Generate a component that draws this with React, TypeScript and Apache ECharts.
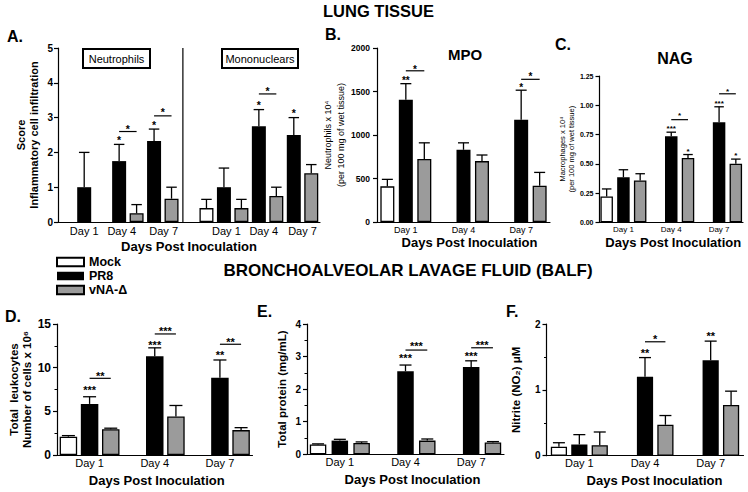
import React, { useEffect, useRef } from 'react';
import * as echarts from 'echarts';

const FONT = '"Liberation Sans", Arial, Helvetica, sans-serif';
const NARROW = '"Liberation Sans Narrow", "Arial Narrow", "Liberation Sans", Arial, sans-serif';
const GRAY = '#9b9b9b';

const legendNames = ['Mock', 'PR8', 'vNA-Δ'];
const dayLabels = ['Day 1', 'Day 4', 'Day 7'];

// ---------- A. Lung histopathology score ----------
const scoreTicks = [0, 1, 2, 3, 4, 5];
const neutPR8 = [1.0, 1.75, 2.33];
const neutPR8Err = [1.0, 0.48, 0.34];
const neutVNA = [0, 0.25, 0.67];
const neutVNAErr = [0, 0.25, 0.33];
const monoMock = [0.4];
const monoMockErr = [0.25];
const monoPR8 = [1.0, 2.75, 2.5];
const monoPR8Err = [0.55, 0.48, 0.5];
const monoVNA = [0.4, 0.75, 1.4];
const monoVNAErr = [0.25, 0.25, 0.25];
const starsA = [
  { d: 3, s: 1, y: 2.44, t: '*' }, { d: 3, s: 1.5, y: 2.76, t: '*' },
  { d: 5, s: 1, y: 2.87, t: '*' }, { d: 5, s: 1.5, y: 3.25, t: '*' },
  { d: 11, s: 1, y: 3.45, t: '*' }, { d: 11, s: 1.5, y: 3.85, t: '*' },
  { d: 13, s: 1, y: 3.22, t: '*' },
];
const linesA = [
  { d: 3, s1: 1, s2: 2, y: 2.6 }, { d: 5, s1: 1, s2: 2, y: 3.05 }, { d: 11, s1: 1, s2: 2, y: 3.68 },
];

// ---------- B. MPO ----------
const mpoTicks = [0, 500, 1000, 1500, 2000];
const mpoMock = [410, null, null];
const mpoMockErr = [80, null, null];
const mpoPR8 = [1405, 830, 1175];
const mpoPR8Err = [185, 80, 340];
const mpoVNA = [725, 700, 417];
const mpoVNAErr = [185, 70, 153];
const starsB = [
  { d: 0, s: 1, y: 1660, t: '**' }, { d: 0, s: 1.5, y: 1787, t: '*' },
  { d: 2, s: 1, y: 1576, t: '*' }, { d: 2, s: 1.5, y: 1703, t: '*' },
];
const linesB = [{ d: 0, s1: 1, s2: 2, y: 1738 }, { d: 2, s1: 1, s2: 2, y: 1640 }];

// ---------- C. NAG ----------
const nagTicks = [0, 0.25, 0.5, 0.75, 1.0, 1.25];
const nagMock = [0.22, null, null];
const nagMockErr = [0.065, null, null];
const nagPR8 = [0.385, 0.735, 0.855];
const nagPR8Err = [0.064, 0.035, 0.132];
const nagVNA = [0.357, 0.549, 0.5];
const nagVNAErr = [0.058, 0.03, 0.04];
const starsC = [
  { d: 1, s: 1, y: 0.82, t: '***' }, { d: 1, s: 1.5, y: 0.93, t: '*' }, { d: 1, s: 2, y: 0.625, t: '*' },
  { d: 2, s: 1, y: 1.035, t: '***' }, { d: 2, s: 1.5, y: 1.135, t: '*' }, { d: 2, s: 2, y: 0.585, t: '*' },
];
const linesC = [{ d: 1, s1: 1, s2: 2, y: 0.877 }, { d: 2, s1: 1, s2: 2, y: 1.098 }];

// ---------- D. Total leukocytes ----------
const leukTicks = [0, 5, 10, 15];
const leukMock = [2.1, null, null];
const leukMockErr = [0.12, null, null];
const leukPR8 = [5.85, 11.3, 8.85];
const leukPR8Err = [0.82, 0.97, 2.03];
const leukVNA = [2.95, 4.4, 2.85];
const leukVNAErr = [0.12, 1.27, 0.28];
const starsD = [
  { d: 0, s: 1, y: 7.75, t: '***' }, { d: 0, s: 1.5, y: 9.43, t: '**' },
  { d: 1, s: 1, y: 12.98, t: '***' }, { d: 1, s: 1.5, y: 14.5, t: '***' },
  { d: 2, s: 1, y: 11.83, t: '**' }, { d: 2, s: 1.5, y: 13.25, t: '**' },
];
const linesD = [
  { d: 0, s1: 1, s2: 2, y: 8.78 }, { d: 1, s1: 1, s2: 2, y: 13.86 }, { d: 2, s1: 1, s2: 2, y: 12.68 },
];

// ---------- E. Total protein ----------
const protTicks = [0, 1, 2, 3, 4];
const protMock = [0.3, null, null];
const protMockErr = [0.02, null, null];
const protPR8 = [0.42, 2.55, 2.68];
const protPR8Err = [0.04, 0.19, 0.19];
const protVNA = [0.35, 0.42, 0.36];
const protVNAErr = [0.03, 0.05, 0.03];
const starsE = [
  { d: 1, s: 1, y: 3.05, t: '***' }, { d: 1, s: 1.5, y: 3.42, t: '***' },
  { d: 2, s: 1, y: 3.1, t: '***' }, { d: 2, s: 1.5, y: 3.45, t: '***' },
];
const linesE = [{ d: 1, s1: 1, s2: 2, y: 3.2 }, { d: 2, s1: 1, s2: 2, y: 3.27 }];

// ---------- F. Nitrite ----------
const nitTicks = [0, 1, 2];
const nitMock = [0.137, null, null];
const nitMockErr = [0.06, null, null];
const nitPR8 = [0.17, 1.2, 1.45];
const nitPR8Err = [0.15, 0.29, 0.29];
const nitVNA = [0.16, 0.47, 0.77];
const nitVNAErr = [0.2, 0.14, 0.21];
const starsF = [
  { d: 1, s: 1, y: 1.6, t: '**' }, { d: 1, s: 1.5, y: 1.82, t: '*' }, { d: 2, s: 1, y: 1.87, t: '**' },
];
const linesF = [{ d: 1, s1: 1, s2: 2, y: 1.73 }];

// ---------- styles ----------
const MOCK_STYLE = { color: '#ffffff', borderColor: '#000', borderWidth: 1.3 };
const PR8_STYLE = { color: '#000000', borderColor: '#000', borderWidth: 0 };
const VNA_STYLE = { color: GRAY, borderColor: '#000', borderWidth: 1.3 };
const BAR_STYLES = [MOCK_STYLE, PR8_STYLE, VNA_STYLE];
const AXIS_LINE = { show: true, lineStyle: { color: '#000', width: 1.2 } };

function mkY(g: number, ticks: number[], L: any) {
  return {
    type: 'value', gridIndex: g,
    min: ticks[0], max: ticks[ticks.length - 1], interval: ticks[1] - ticks[0],
    axisLine: AXIS_LINE,
    axisTick: { show: true, length: 4, lineStyle: { color: '#000', width: 1.2 } },
    minorTick: { show: !!L.minor, splitNumber: 2, length: 2.5, lineStyle: { color: '#000', width: 1 } },
    splitLine: { show: false },
    minorSplitLine: { show: false },
    axisLabel: {
      color: '#000', fontFamily: FONT, fontWeight: 'bold', fontSize: L.yLabelSize,
      margin: L.yLabelMargin, formatter: L.yFmt || ((v: number) => String(v)),
    },
    name: L.yName, nameLocation: 'middle', nameGap: L.yNameGap,
    nameTextStyle: {
      color: '#000', fontFamily: FONT, fontSize: L.yNameSize,
      fontWeight: L.yNameBold ? 'bold' : 'normal', lineHeight: L.yNameLH,
    },
  };
}

function xName(gap: number, shift: number) {
  return {
    name: 'Days Post Inoculation', nameLocation: 'middle', nameGap: gap,
    nameTextStyle: {
      color: '#000', fontFamily: FONT, fontSize: 13, fontWeight: 'bold',
      padding: shift >= 0 ? [0, 0, 0, 2 * shift] : [0, -2 * shift, 0, 0],
    },
  };
}

function errSeries(g: number, items: any[], cap: number) {
  return {
    type: 'custom', xAxisIndex: g, yAxisIndex: g, z: 5, silent: true, clip: false,
    data: items.map((it) => [it.x, it.v + it.e]),
    renderItem: (params: any, api: any) => {
      const it = items[params.dataIndex];
      const b = api.coord([it.x, it.v]);
      const t = api.coord([it.x, it.v + it.e]);
      const cx = b[0] + it.off;
      const st = { stroke: '#000', lineWidth: 1.3 };
      return {
        type: 'group',
        children: [
          { type: 'line', shape: { x1: cx, y1: b[1], x2: cx, y2: t[1] }, style: st },
          { type: 'line', shape: { x1: cx - cap / 2, y1: t[1], x2: cx + cap / 2, y2: t[1] }, style: st },
        ],
      };
    },
  };
}

function annotSeries(g: number, slotPx: number | null, stars: any[], lines: any[], fs: number, extra?: any) {
  return {
    type: 'custom', xAxisIndex: g, yAxisIndex: g, z: 6, silent: true, clip: false,
    data: [[0, 0]],
    renderItem: (_p: any, api: any) => {
      const band = api.size([1, 0])[0];
      const sp = slotPx == null ? band : slotPx;
      const X = (d: number, s: number) => api.coord([d, 0])[0] + (s - 1) * sp;
      const Y = (y: number) => api.coord([0, y])[1];
      const children: any[] = [];
      lines.forEach((l) => children.push({
        type: 'line',
        shape: { x1: X(l.d, l.s1), y1: Y(l.y), x2: X(l.d, l.s2), y2: Y(l.y) },
        style: { stroke: '#000', lineWidth: 1.2 },
      }));
      stars.forEach((t) => children.push({
        type: 'text', x: X(t.d, t.s), y: Y(t.y) + 0.27 * fs,
        style: {
          text: t.t, fill: '#000', fontSize: fs, fontWeight: 'bold', fontFamily: FONT,
          align: 'center', verticalAlign: 'middle',
        },
      }));
      if (extra) children.push(...extra(api, band));
      return { type: 'group', children };
    },
  };
}

function buildOption() {
  const grid = [
    { left: 58, top: 48, width: 262, height: 174 },
    { left: 377, top: 48, width: 173, height: 174 },
    { left: 599.5, top: 76, width: 143.5, height: 146.3 },
    { left: 57, top: 324, width: 195.5, height: 131 },
    { left: 307, top: 324, width: 197, height: 130.3 },
    { left: 546.5, top: 324, width: 197, height: 131.7 },
  ];
  const xAxis: any[] = [];
  const yAxis: any[] = [];
  const series: any[] = [];

  // ----- Panel A (slot layout) -----
  const slotCountA = 15;
  const slotNamesA = Array.from({ length: slotCountA }, (_, i) => 's' + i);
  const neutPR8Slots = [1, 3, 5];
  const neutVNASlots = [2, 4, 6];
  const monoMockSlots = [8];
  const monoPR8Slots = [9, 11, 13];
  const monoVNASlots = [10, 12, 14];
  const dayLabelSlotsA = [1, 3.15, 5.55, 9.14, 11.28, 13.5];
  const slotPxA = grid[0].width / slotCountA;
  const rich: any = {};
  const labelAt: Record<number, string> = {};
  dayLabelSlotsA.forEach((p, k) => {
    const base = Math.floor(p);
    const frac = p - base;
    rich['d' + k] = { fontFamily: NARROW, fontSize: 11, color: '#000', padding: [0, 0, 0, 2 * frac * slotPxA] };
    labelAt[base] = `{d${k}|${dayLabels[k % 3]}}`;
  });
  xAxis.push({
    type: 'category', gridIndex: 0, data: slotNamesA,
    axisTick: { show: false }, axisLine: AXIS_LINE,
    axisLabel: { interval: 0, margin: 3, formatter: (_v: any, i: number) => labelAt[i] || '', rich },
    ...xName(17.5, 0),
  });
  yAxis.push(mkY(0, scoreTicks, {
    yLabelSize: 10, yLabelMargin: 5, yName: 'Score\nInflammatory cell infiltration',
    yNameGap: 17.5, yNameSize: 11, yNameBold: true, yNameLH: 13,
  }));
  const place = (slots: number[], vals: number[]) => {
    const a: any[] = Array(slotCountA).fill('-');
    slots.forEach((s, i) => { a[s] = vals[i] > 0 ? vals[i] : '-'; });
    return a;
  };
  const aData = [
    place(monoMockSlots, monoMock),
    place([...neutPR8Slots, ...monoPR8Slots], [...neutPR8, ...monoPR8]),
    place([...neutVNASlots, ...monoVNASlots], [...neutVNA, ...monoVNA]),
  ];
  aData.forEach((d, s) => series.push({
    type: 'bar', name: legendNames[s], xAxisIndex: 0, yAxisIndex: 0, data: d,
    barWidth: 14, barGap: '-100%', itemStyle: BAR_STYLES[s],
  }));
  const errA: any[] = [];
  const addErr = (slots: number[], vals: number[], errs: number[]) => slots.forEach((x, i) => {
    if (errs[i] > 0) errA.push({ x, off: 0, v: vals[i], e: errs[i] });
  });
  addErr(neutPR8Slots, neutPR8, neutPR8Err);
  addErr(neutVNASlots, neutVNA, neutVNAErr);
  addErr(monoMockSlots, monoMock, monoMockErr);
  addErr(monoPR8Slots, monoPR8, monoPR8Err);
  addErr(monoVNASlots, monoVNA, monoVNAErr);
  series.push(errSeries(0, errA, 10.5));
  series.push(annotSeries(0, null, starsA, linesA, 10.5, (api: any, band: number) => {
    const x = api.coord([6, 0])[0] + 0.65 * band;
    return [{
      type: 'line',
      shape: { x1: x, y1: api.coord([6, scoreTicks[0]])[1], x2: x, y2: api.coord([6, scoreTicks[scoreTicks.length - 1]])[1] },
      style: { stroke: '#000', lineWidth: 1.2 },
    }];
  }));

  // ----- Panels B–F (grouped) -----
  const panels = [
    {
      g: 1, ticks: mpoTicks, vals: [mpoMock, mpoPR8, mpoVNA], errs: [mpoMockErr, mpoPR8Err, mpoVNAErr],
      stars: starsB, lines: linesB,
      L: { barW: 14, gap: 32, cap: 11, starSize: 10, xLabelSize: 9, xLabelMargin: 3, xNameGap: 13.5, xShift: 6,
        yLabelSize: 8.5, yLabelMargin: 7, yName: 'Neutrophils x 10⁴\n(per 100 mg of wet tissue)',
        yNameGap: 24, yNameSize: 9, yNameBold: false, yNameLH: 13 },
    },
    {
      g: 2, ticks: nagTicks, vals: [nagMock, nagPR8, nagVNA], errs: [nagMockErr, nagPR8Err, nagVNAErr],
      stars: starsC, lines: linesC,
      L: { barW: 12.5, gap: 34, cap: 9.5, starSize: 8, xLabelSize: 8, xLabelMargin: 3, xNameGap: 13.5, xShift: 2,
        yLabelSize: 7, yLabelMargin: 6, yFmt: (v: number) => v.toFixed(2),
        yName: 'Macrophages x 10⁴\n(per 100 mg of wet tissue)',
        yNameGap: 22, yNameSize: 7.5, yNameBold: false, yNameLH: 9 },
    },
    {
      g: 3, ticks: leukTicks, vals: [leukMock, leukPR8, leukVNA], errs: [leukMockErr, leukPR8Err, leukVNAErr],
      stars: starsD, lines: linesD,
      L: { barW: 17.5, gap: 21, cap: 13, starSize: 11, xLabelSize: 11, xLabelMargin: 2, xNameGap: 18.5, xShift: 2,
        yLabelSize: 12, yLabelMargin: 6, yName: 'Total  leukocytes\nNumber of cells x 10⁶',
        yNameGap: 23, yNameSize: 11.5, yNameBold: true, yNameLH: 13, minor: true },
    },
    {
      g: 4, ticks: protTicks, vals: [protMock, protPR8, protVNA], errs: [protMockErr, protPR8Err, protVNAErr],
      stars: starsE, lines: linesE,
      L: { barW: 16.5, gap: 32, cap: 12, starSize: 11, xLabelSize: 11, xLabelMargin: 2, xNameGap: 18.5, xShift: 7,
        yLabelSize: 10, yLabelMargin: 6, yName: 'Total protein (mg/mL)',
        yNameGap: 19, yNameSize: 11.5, yNameBold: true, yNameLH: 13, minor: true },
    },
    {
      g: 5, ticks: nitTicks, vals: [nitMock, nitPR8, nitVNA], errs: [nitMockErr, nitPR8Err, nitVNAErr],
      stars: starsF, lines: linesF,
      L: { barW: 16.2, gap: 26, cap: 12, starSize: 11, xLabelSize: 11, xLabelMargin: 2, xNameGap: 18.5, xShift: 9.5,
        yLabelSize: 10, yLabelMargin: 6, yName: 'Nitrite (NO₂) μM',
        yNameGap: 24, yNameSize: 11.5, yNameBold: true, yNameLH: 13, minor: true },
    },
  ];

  panels.forEach((p) => {
    const { g, L } = p;
    xAxis.push({
      type: 'category', gridIndex: g, data: dayLabels,
      axisTick: { show: false }, axisLine: AXIS_LINE,
      axisLabel: { interval: 0, color: '#000', fontFamily: NARROW, fontSize: L.xLabelSize, margin: L.xLabelMargin },
      ...xName(L.xNameGap, L.xShift),
    });
    yAxis.push(mkY(g, p.ticks, L));
    const slotPx = L.barW * (1 + L.gap / 100);
    const errItems: any[] = [];
    p.vals.forEach((vals: any[], s: number) => {
      series.push({
        type: 'bar', name: legendNames[s], xAxisIndex: g, yAxisIndex: g,
        data: vals.map((v) => (v == null ? '-' : v)),
        barWidth: L.barW, barGap: L.gap + '%', itemStyle: BAR_STYLES[s],
      });
      vals.forEach((v: any, d: number) => {
        const e = p.errs[s][d];
        if (v != null && e != null) errItems.push({ x: d, off: (s - 1) * slotPx, v, e });
      });
    });
    series.push(errSeries(g, errItems, L.cap));
    series.push(annotSeries(g, slotPx, p.stars, p.lines, L.starSize));
  });

  const T = (text: string, x: number, y: number, size: number, weight = 'bold', align = 'left') => ({
    type: 'text', x, y, silent: true, z: 10,
    style: { text, fontFamily: FONT, fontSize: size, fontWeight: weight, fill: '#000', align, verticalAlign: 'middle' },
  });
  const graphic = [
    T('LUNG TISSUE', 378.5, 11, 16.5, 'bold', 'center'),
    T('A.', 7, 36, 16), T('B.', 325, 34, 16), T('C.', 555, 44, 16),
    T('MPO', 465, 54, 15, 'bold', 'center'), T('NAG', 675, 58, 16, 'bold', 'center'),
    { type: 'rect', z: 9, shape: { x: 83, y: 49, width: 67, height: 19 }, style: { fill: '#fff', stroke: '#000', lineWidth: 2 } },
    T('Neutrophils', 116.5, 58.5, 11, 'normal', 'center'),
    { type: 'rect', z: 9, shape: { x: 222, y: 49, width: 76, height: 19 }, style: { fill: '#fff', stroke: '#000', lineWidth: 2 } },
    T('Mononuclears', 260, 58.5, 11, 'normal', 'center'),
    T('BRONCHOALVEOLAR LAVAGE FLUID (BALF)', 408, 270, 17, 'bold', 'center'),
    T('D.', 5, 316, 16), T('E.', 257, 311, 16), T('F.', 506, 311, 16),
  ];

  return {
    animation: false,
    backgroundColor: '#ffffff',
    textStyle: { fontFamily: FONT },
    grid,
    xAxis,
    yAxis,
    series,
    graphic,
    legend: {
      data: legendNames, orient: 'vertical', left: 56, top: 255.5, padding: 0,
      itemWidth: 27, itemHeight: 8.5, itemGap: 1, icon: 'rect', selectedMode: false,
      textStyle: { fontFamily: FONT, fontWeight: 'bold', fontSize: 12.5, color: '#000' },
    },
  };
}

export default function App() {
  const ref = useRef<HTMLDivElement>(null);
  useEffect(() => {
    document.body.style.margin = '0';
    const chart = echarts.init(ref.current as HTMLDivElement, null, { renderer: 'svg' });
    chart.setOption(buildOption() as any);
    return () => chart.dispose();
  }, []);
  return <div ref={ref} style={{ width: 748, height: 492, background: '#fff' }} />;
}
